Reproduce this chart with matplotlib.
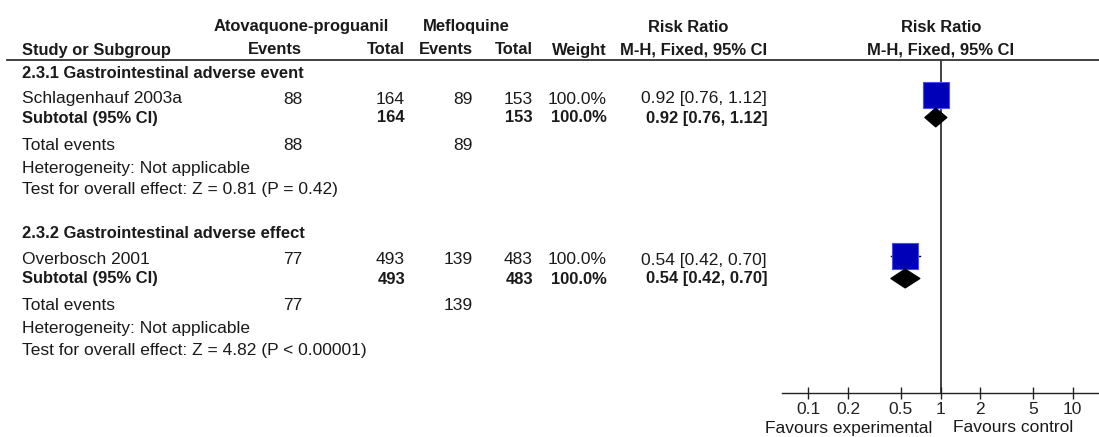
import matplotlib
matplotlib.use("Agg")
import matplotlib.pyplot as plt
from matplotlib.lines import Line2D
from matplotlib.patches import Polygon

plt.rcParams['font.family'] = ['Liberation Sans', 'DejaVu Sans']

# data
groups = ["2.3.1 Gastrointestinal adverse event", "2.3.2 Gastrointestinal adverse effect"]
studies = ["Schlagenhauf 2003a", "Overbosch 2001"]
ap_events = [88, 77]
ap_total = [164, 493]
mef_events = [89, 139]
mef_total = [153, 483]
weights = [100.0, 100.0]
rr = [0.92, 0.54]
rr_lo = [0.76, 0.42]
rr_hi = [1.12, 0.70]
z_vals = [0.81, 4.82]
p_texts = ["P = 0.42", "P < 0.00001"]
tick_vals = [0.1, 0.2, 0.5, 1, 2, 5, 10]
tick_labels = ["0.1", "0.2", "0.5", "1", "2", "5", "10"]

W, H = 1099, 437
fig = plt.figure(figsize=(W / 100, H / 100), dpi=100)
fig.patch.set_facecolor("white")

TXT = "#1a1a1a"
FS = 12.5
FS_B = 11.9


def fx(px):
    return px / W


def fy(py):
    return 1 - py / H


def put(x, y, s, ha="left", bold=False):
    # y is the visual centre of the text line, in pixels from the top
    fig.text(fx(x), fy(y + 5.5), s, ha=ha, va="baseline", color=TXT,
             fontsize=FS_B if bold else FS, fontweight="bold" if bold else "normal")


# column right edges / anchors (px)
X_NAME = 22
X_APE, X_APT, X_MFE, X_MFT, X_WT, X_CI = 302, 405, 473, 533, 607, 767

# header
put(301, 26, "Atovaquone-proguanil", ha="center", bold=True)
put(466, 26, "Mefloquine", ha="center", bold=True)
put(688, 26, "Risk Ratio", ha="center", bold=True)
put(941, 26, "Risk Ratio", ha="center", bold=True)
put(X_NAME, 49, "Study or Subgroup", bold=True)
put(X_APE, 49, "Events", ha="right", bold=True)
put(X_APT, 49, "Total", ha="right", bold=True)
put(X_MFE, 49, "Events", ha="right", bold=True)
put(X_MFT, 49, "Total", ha="right", bold=True)
put(X_WT, 49, "Weight", ha="right", bold=True)
put(X_CI, 49, "M-H, Fixed, 95% CI", ha="right", bold=True)
put(941, 49, "M-H, Fixed, 95% CI", ha="center", bold=True)

fig.add_artist(Line2D([fx(7), 1], [fy(60), fy(60)], color="#333333", lw=1.3))

# forest panel, y in pixel units so rows line up with the table
ax = fig.add_axes([fx(782), fy(393), fx(1099) - fx(782), (393 - 60) / H])
ax.set_xscale("log")
ax.set_xlim(10 ** -1.2, 10 ** 1.2)
ax.set_ylim(393, 60)
ax.patch.set_alpha(0)
for side in ["top", "right", "left"]:
    ax.spines[side].set_visible(False)
ax.spines["bottom"].set_color("#222222")
ax.spines["bottom"].set_linewidth(1.0)
ax.set_yticks([])
ax.set_xticks(tick_vals)
ax.set_xticklabels(tick_labels)
ax.minorticks_off()
ax.tick_params(axis="x", direction="inout", length=9, width=1.0, pad=2,
               labelsize=FS, colors="#222222")
ax.axvline(1, color="#333333", lw=1.3, zorder=1)

ROW_OFF = 161
for g in range(len(groups)):
    y0 = 72 + g * ROW_OFF
    y_study = y0 + 26
    y_sub = y0 + 45
    y_tot = y0 + 72
    y_het = y0 + 95
    y_test = y0 + 116

    put(X_NAME, y0, groups[g], bold=True)

    put(X_NAME, y_study, studies[g])
    put(X_APE, y_study, str(ap_events[g]), ha="right")
    put(X_APT, y_study, str(ap_total[g]), ha="right")
    put(X_MFE, y_study, str(mef_events[g]), ha="right")
    put(X_MFT, y_study, str(mef_total[g]), ha="right")
    put(X_WT, y_study, f"{weights[g]:.1f}%", ha="right")
    put(X_CI, y_study, f"{rr[g]:.2f} [{rr_lo[g]:.2f}, {rr_hi[g]:.2f}]", ha="right")

    put(X_NAME, y_sub, "Subtotal (95% CI)", bold=True)
    put(X_APT, y_sub, str(ap_total[g]), ha="right", bold=True)
    put(X_MFT, y_sub, str(mef_total[g]), ha="right", bold=True)
    put(X_WT, y_sub, f"{weights[g]:.1f}%", ha="right", bold=True)
    put(X_CI, y_sub, f"{rr[g]:.2f} [{rr_lo[g]:.2f}, {rr_hi[g]:.2f}]", ha="right", bold=True)

    put(X_NAME, y_tot, "Total events")
    put(X_APE, y_tot, str(ap_events[g]), ha="right")
    put(X_MFE, y_tot, str(mef_events[g]), ha="right")
    put(X_NAME, y_het, "Heterogeneity: Not applicable")
    put(X_NAME, y_test, f"Test for overall effect: Z = {z_vals[g]:.2f} ({p_texts[g]})")

    # study estimate: CI whisker + weighted square
    ys = y_study - 3
    ax.plot([rr_lo[g], rr_hi[g]], [ys, ys], color="black", lw=1, zorder=2)
    ax.scatter([rr[g]], [ys], marker="s", s=340, facecolor="#0000b8",
               edgecolor="#4a4aff", linewidths=0.8, zorder=3)

    # pooled diamond
    yd = y_sub + 0.5
    dh = 9.5
    ax.add_patch(Polygon([(rr_lo[g], yd), (rr[g], yd - dh), (rr_hi[g], yd), (rr[g], yd + dh)],
                         closed=True, facecolor="black", edgecolor="black", lw=0.8, zorder=3))

put(849, 427, "Favours experimental", ha="center")
put(1013, 427, "Favours control", ha="center")

fig.savefig("out.png", dpi=100)
